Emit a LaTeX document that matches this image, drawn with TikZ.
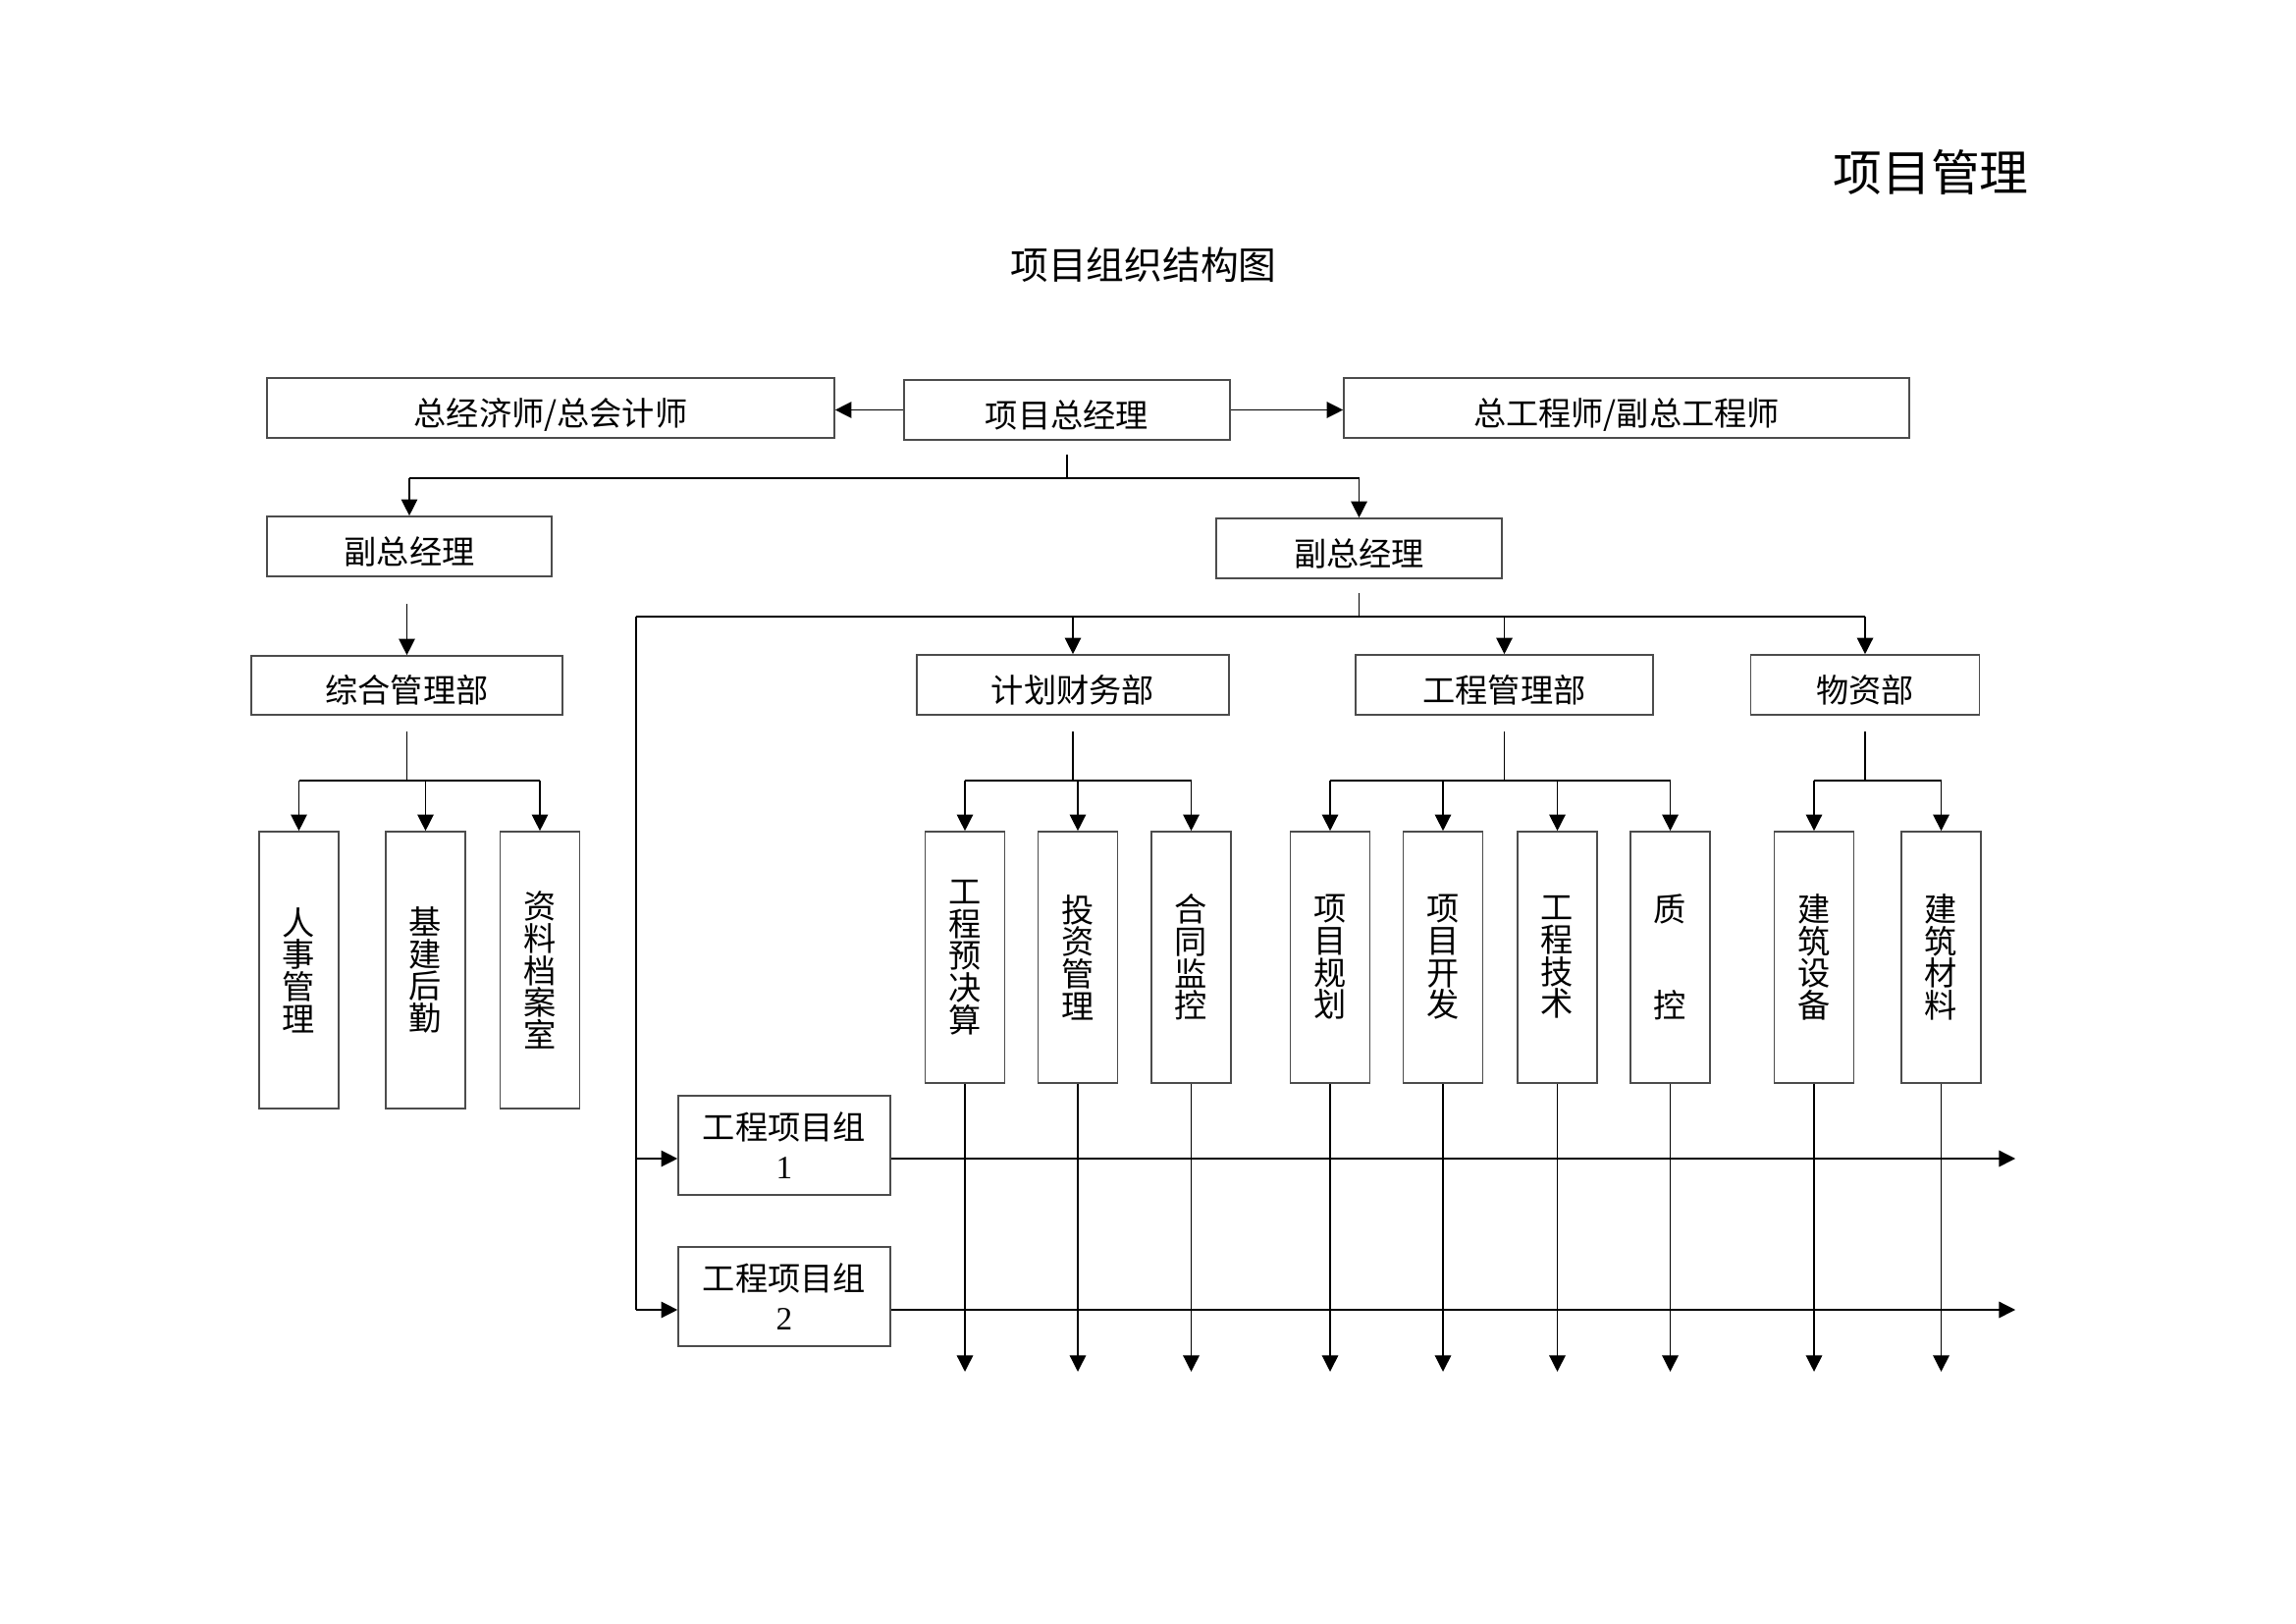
\documentclass[tikz,border=0pt]{standalone}
\usepackage{fontspec}
\setmainfont{Liberation Serif}
\newfontfamily\cjk{Noto Sans CJK SC}
\usetikzlibrary{calc, arrows.meta}

\newcommand{\px}[1]{#1*0.012698cm}

\tikzset{
  box/.style 2 args={draw=black!70, line width=0.6pt, inner sep=0pt,
    minimum width=\px{#1}, minimum height=\px{#2}, align=center,
    font=\cjk\fontsize{12}{14.5}\selectfont},
  onerow/.style={text height=14pt, text depth=1.2pt},
  colbox/.style={draw=black!70, line width=0.6pt, inner sep=0pt,
    minimum width=\px{81}, minimum height=\px{#1}, align=center,
    font=\cjk\fontsize{12}{11.8}\selectfont},
  line/.style={line width=0.45pt},
  arr/.style={line width=0.45pt, -{Triangle[width=6pt, length=6pt]}}
}

\begin{document}
\begin{tikzpicture}[x=0.012698cm, y=-0.012698cm]
  \useasboundingbox (0,0) rectangle (2339,1653);

  % Titles
  \node[font=\cjk\fontsize{18}{20}\selectfont] (title) at (1967,175) {项目管理};
  \node[font=\cjk\fontsize{14}{16}\selectfont] (subtitle) at (1165,270) {项目组织结构图};

  % Top row
  \node[box={578}{61}, onerow] (jjs) at (561,415.5) {总经济师/总会计师};
  \node[box={332}{61}, onerow] (pm) at (1087,417.5) {项目总经理};
  \node[box={576}{61}, onerow] (zgc) at (1657,415.5) {总工程师/副总工程师};
  \draw[arr] (pm.west) -- (pm.west -| jjs.east);
  \draw[arr] (pm.east) -- (pm.east -| zgc.west);

  % Deputies
  \node[box={290}{61}, onerow] (fz1) at (417,556.5) {副总经理};
  \node[box={291}{61}, onerow] (fz2) at (1384.5,558.5) {副总经理};
  \coordinate (bus1) at (0,487);
  \draw[line] ($(pm.south)+(0,14)$) -- (pm.south |- bus1);
  \draw[line] (fz1.north |- bus1) -- (fz2.north |- bus1);
  \draw[arr] (fz1.north |- bus1) -- (fz1.north);
  \draw[arr] (fz2.north |- bus1) -- (fz2.north);

  % Departments
  \node[box={317}{60}, onerow] (zh) at (414.5,698) {综合管理部};
  \node[box={318}{61}, onerow] (jh) at (1093,697.5) {计划财务部};
  \node[box={303}{61}, onerow] (gc) at (1532.5,697.5) {工程管理部};
  \node[box={233}{61}, onerow] (wz) at (1900,697.5) {物资部};
  \draw[arr] ($(zh.north)+(0,-52)$) -- (zh.north);

  \coordinate (bus2) at (648,628);
  \draw[line] ($(fz2.south)+(0,14)$) -- (fz2.south |- bus2);
  \draw[line] (bus2) -- (wz.north |- bus2);
  \foreach \d in {jh, gc, wz}
    \draw[arr] (\d.north |- bus2) -- (\d.north);

  % Project groups
  \node[box={216}{101}] (g1) at (799,1166.5) {工程项目组\\{\rmfamily 1}};
  \node[box={216}{101}] (g2) at (799,1320.5) {工程项目组\\{\rmfamily 2}};
  \coordinate (row1) at (2053,1180);
  \coordinate (row2) at (2053,1334);
  \draw[line] (bus2) -- (bus2 |- row2);
  \draw[arr] (bus2 |- row1) -- (g1.west |- row1);
  \draw[arr] (bus2 |- row2) -- (g2.west |- row2);
  \draw[arr] (g1.east |- row1) -- (row1);
  \draw[arr] (g2.east |- row2) -- (row2);

  % Sections
  \foreach \nm/\tx/\xx in {rs/人\\事\\管\\理/304.5, jq/基\\建\\后\\勤/433.5,
      da/资\\料\\档\\案\\室/550}
    \node[colbox=282] (\nm) at (\xx,988) {\tx};
  \foreach \nm/\tx/\xx in {ys/工\\程\\预\\决\\算/983, tz/投\\资\\管\\理/1098,
      ht/合\\同\\监\\控/1213.5, gh/项\\目\\规\\划/1355, kf/项\\目\\开\\发/1470,
      js/工\\程\\技\\术/1586.5, zk/质\\[23.6pt]控/1701.5,
      sb/建\\筑\\设\\备/1848, cl/建\\筑\\材\\料/1977.5}
    \node[colbox=256] (\nm) at (\xx,975) {\tx};

  \coordinate (bus3) at (0,795);
  \foreach \d/\a/\b in {zh/rs/da, jh/ys/ht, gc/gh/zk, wz/sb/cl} {
    \draw[line] ($(\d.south)+(0,16)$) -- (\d.south |- bus3);
    \draw[line] (\a.north |- bus3) -- (\b.north |- bus3);
  }
  \foreach \c in {rs, jq, da, ys, tz, ht, gh, kf, js, zk, sb, cl}
    \draw[arr] (\c.north |- bus3) -- (\c.north);

  % Down to the project work
  \coordinate (bot) at (0,1397);
  \foreach \c in {ys, tz, ht, gh, kf, js, zk, sb, cl}
    \draw[arr] (\c.south) -- (\c.south |- bot);
\end{tikzpicture}
\end{document}
